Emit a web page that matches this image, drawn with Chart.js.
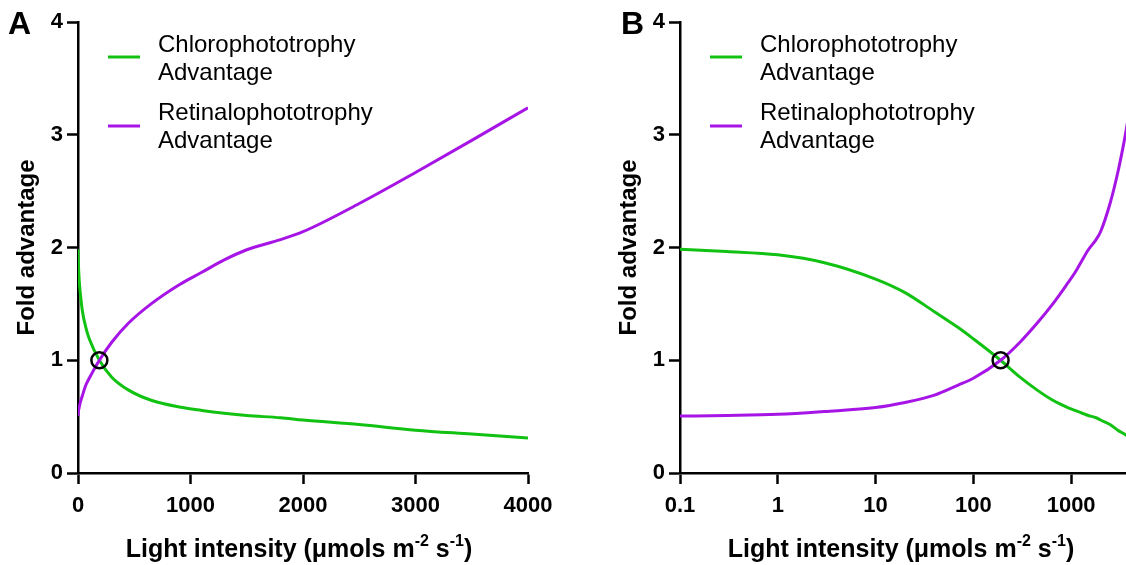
<!DOCTYPE html>
<html>
<head>
<meta charset="utf-8">
<script src="https://cdn.jsdelivr.net/npm/chart.js@4"></script>
<style>
  html, body { margin: 0; padding: 0; background: #fff; overflow: hidden; }
  body { width: 1126px; height: 565px; position: relative; }
  .panel { position: absolute; top: 0; width: 563px; height: 565px; }
  #panelA { left: 0; }
  #panelB { left: 602px; }
</style>
</head>
<body>
<div class="panel" id="panelA"><canvas id="chartA"></canvas></div>
<div class="panel" id="panelB"><canvas id="chartB"></canvas></div>
<script>
// light intensity (µmols m-2 s-1) and fold advantage
const lightIntensity = [0.1, 0.3, 1, 3, 10, 20, 40, 70, 100, 190, 300, 450, 650, 900, 1100, 1300, 1500, 1800, 2000, 2500, 3000, 3500, 4000];
const chloroAdvantage = [1.985, 1.965, 1.935, 1.865, 1.72, 1.6, 1.43, 1.29, 1.19, 1.0, 0.85, 0.735, 0.645, 0.585, 0.555, 0.53, 0.51, 0.49, 0.47, 0.43, 0.38, 0.345, 0.31];
const retinalAdvantage = [0.505, 0.51, 0.52, 0.545, 0.58, 0.625, 0.69, 0.78, 0.84, 1.0, 1.16, 1.33, 1.5, 1.67, 1.78, 1.89, 1.98, 2.07, 2.14, 2.39, 2.665, 2.95, 3.24];

// crossing point marked with an open circle
const crossX = [190];
const crossY = [1];

const linearTicks = [0, 1000, 2000, 3000, 4000];
const logTicks = [0.1, 1, 10, 100, 1000];
const yTicks = [0, 1, 2, 3, 4];

const legendLabels = [
    ['Chlorophototrophy', 'Advantage'],
    ['Retinalophototrophy', 'Advantage']
];

const GREEN = '#12c212';
const PURPLE = '#a714e6';
const FONT = "'Liberation Sans', Arial, sans-serif";

function toPoints(xs, ys) {
    return xs.map((x, i) => ({ x: x, y: ys[i] }));
}

// 图例、字母、坐标轴标题
function decorPlugin(letter, letterX) {
    return {
        id: 'decor',
        afterDraw(chart) {
            const ctx = chart.ctx;
            const area = chart.chartArea;
            ctx.save();
            ctx.fillStyle = '#000';

            // panel letter
            ctx.font = 'bold 32px ' + FONT;
            ctx.textAlign = 'left';
            ctx.textBaseline = 'alphabetic';
            ctx.fillText(letter, letterX, 34);

            // legend
            const colors = [GREEN, PURPLE];
            const lineY = [57, 126];
            const textY = [[52, 80], [120, 148]];
            ctx.lineWidth = 3;
            ctx.font = '24px ' + FONT;
            colors.forEach((c, i) => {
                ctx.strokeStyle = c;
                ctx.beginPath();
                ctx.moveTo(area.left + 30, lineY[i]);
                ctx.lineTo(area.left + 62, lineY[i]);
                ctx.stroke();
                legendLabels[i].forEach((t, j) => {
                    ctx.fillText(t, area.left + 80, textY[i][j]);
                });
            });

            // y title
            ctx.save();
            ctx.translate(34, (area.top + area.bottom) / 2);
            ctx.rotate(-Math.PI / 2);
            ctx.textAlign = 'center';
            ctx.font = 'bold 24px ' + FONT;
            ctx.fillText('Fold advantage', 0, 0);
            ctx.restore();

            // x title with superscripts
            const parts = [
                { t: 'Light intensity (\u03bcmols m', sup: false },
                { t: '-2', sup: true },
                { t: ' s', sup: false },
                { t: '-1', sup: true },
                { t: ')', sup: false }
            ];
            const bigFont = 'bold 25px ' + FONT;
            const supFont = 'bold 16px ' + FONT;
            let total = 0;
            parts.forEach(p => {
                ctx.font = p.sup ? supFont : bigFont;
                p.w = ctx.measureText(p.t).width;
                total += p.w;
            });
            let x = (area.left + area.right) / 2 - 4 - total / 2;
            ctx.textAlign = 'left';
            parts.forEach(p => {
                ctx.font = p.sup ? supFont : bigFont;
                ctx.fillText(p.t, x, p.sup ? 546 : 557);
                x += p.w;
            });
            ctx.restore();
        }
    };
}

function makeChart(id, xType, tickValues, letter, letterX) {
    const xScale = {
        type: xType,
        min: xType === 'logarithmic' ? 0.1 : 0,
        max: 4000,
        afterBuildTicks: s => { s.ticks = tickValues.map(v => ({ value: v })); },
        afterFit: s => { s.height = 92; },
        ticks: {
            color: '#000',
            font: { family: FONT, size: 22, weight: 'bold' },
            padding: 9,
            maxRotation: 0,
            autoSkip: false,
            callback: v => String(v)
        },
        grid: { drawOnChartArea: false, tickLength: 11, tickColor: '#000', tickWidth: 2.5 },
        border: { color: '#000', width: 2.5 }
    };
    const yScale = {
        type: 'linear',
        min: 0,
        max: 4,
        afterBuildTicks: s => { s.ticks = yTicks.map(v => ({ value: v })); },
        afterFit: s => { s.width = 78; },
        ticks: {
            color: '#000',
            font: { family: FONT, size: 22, weight: 'bold' },
            padding: 4
        },
        grid: { drawOnChartArea: false, tickLength: 11, tickColor: '#000', tickWidth: 2.5 },
        border: { color: '#000', width: 2.5 }
    };

    return new Chart(document.getElementById(id), {
        type: 'scatter',
        data: {
            datasets: [
                {
                    label: 'crossing',
                    data: toPoints(crossX, crossY),
                    pointRadius: 8,
                    pointBorderWidth: 2.5,
                    pointBorderColor: '#000',
                    pointBackgroundColor: 'rgba(0,0,0,0)',
                    showLine: false
                },
                {
                    label: 'Retinalophototrophy Advantage',
                    data: toPoints(lightIntensity, retinalAdvantage),
                    showLine: true,
                    borderColor: PURPLE,
                    borderWidth: 3,
                    pointRadius: 0,
                    cubicInterpolationMode: 'monotone'
                },
                {
                    label: 'Chlorophototrophy Advantage',
                    data: toPoints(lightIntensity, chloroAdvantage),
                    showLine: true,
                    borderColor: GREEN,
                    borderWidth: 3,
                    pointRadius: 0,
                    cubicInterpolationMode: 'monotone'
                }
            ]
        },
        options: {
            responsive: true,
            maintainAspectRatio: false,
            animation: false,
            layout: { padding: { top: 22, right: 35, bottom: 0, left: 0 } },
            plugins: { legend: { display: false }, tooltip: { enabled: false } },
            scales: { x: xScale, y: yScale }
        },
        plugins: [decorPlugin(letter, letterX)]
    });
}

makeChart('chartA', 'linear', linearTicks, 'A', 8);
makeChart('chartB', 'logarithmic', logTicks, 'B', 19);
</script>
</body>
</html>
